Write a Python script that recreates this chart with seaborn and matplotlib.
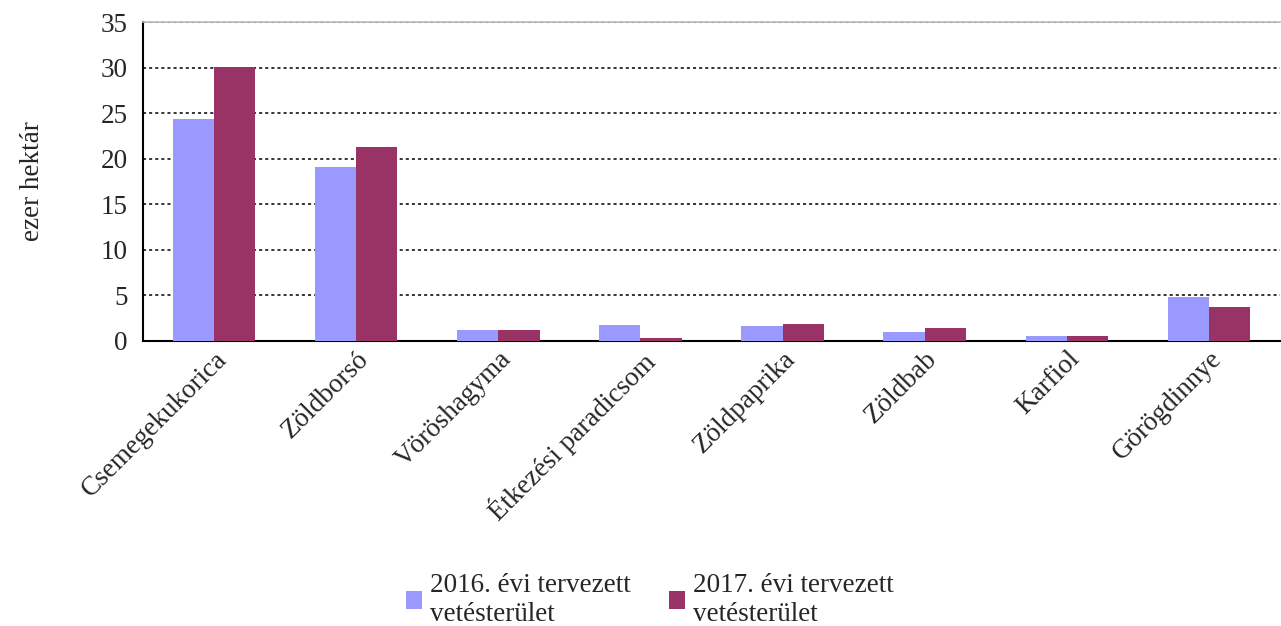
import pandas as pd
import matplotlib
matplotlib.use("Agg")
import matplotlib.pyplot as plt
import seaborn as sns

categories = ["Csemegekukorica", "Zöldborsó", "Vöröshagyma", "Étkezési paradicsom",
              "Zöldpaprika", "Zöldbab", "Karfiol", "Görögdinnye"]
area_2016 = [24.4, 19.1, 1.2, 1.8, 1.65, 1.0, 0.55, 4.8]
area_2017 = [30.1, 21.3, 1.2, 0.3, 1.85, 1.4, 0.55, 3.7]
series_labels = ["2016. évi tervezett\nvetésterület", "2017. évi tervezett\nvetésterület"]
colors = ["#9999FF", "#993366"]

df = pd.DataFrame({
    "cat": categories * 2,
    "value": area_2016 + area_2017,
    "series": [series_labels[0]] * len(categories) + [series_labels[1]] * len(categories),
})

sns.set_style("white")
plt.rcParams["font.family"] = ["Liberation Serif", "DejaVu Serif"]

fig = plt.figure(figsize=(12.81, 6.26), dpi=100)
ax = fig.add_axes([143 / 1281, 1 - 341 / 626, (1280 - 143) / 1281, (341 - 22) / 626])

sns.barplot(data=df, x="cat", y="value", hue="series", palette=colors,
            width=0.58, gap=0, saturation=1, linewidth=0, ax=ax, zorder=3)

ax.set_ylim(0, 35)
ax.set_yticks(range(0, 36, 5))
ax.yaxis.grid(True, linestyle=(0, (2, 2)), color="black", linewidth=1.1, zorder=0)
ax.set_axisbelow(True)
ax.set_xlim(-0.5, len(categories) - 0.5)

ax.tick_params(axis="y", labelsize=19.5, length=0, pad=11)
ax.tick_params(axis="x", labelsize=19.5, length=0, pad=4)
plt.setp(ax.get_xticklabels(), rotation=45, ha="right", rotation_mode="anchor")
ax.set_xlabel("")
ax.set_ylabel("ezer hektár", fontsize=19.5, labelpad=40)

for side in ["left", "bottom"]:
    ax.spines[side].set_color("black")
    ax.spines[side].set_linewidth(1.5)
ax.spines["right"].set_visible(False)
ax.spines["top"].set_color("#BBBBBB")
ax.spines["top"].set_linewidth(1.2)

handles, labels = ax.get_legend_handles_labels()
ax.legend_.remove()
leg = fig.legend(handles, labels, loc="center", bbox_to_anchor=(650 / 1281, 1 - 600 / 626),
                 ncol=2, frameon=False, fontsize=19.5, handlelength=0.6, handleheight=0.6,
                 handletextpad=0.3, columnspacing=1.4)
for t in leg.get_texts():
    t.set_linespacing(1.2)

fig.savefig("out.png", dpi=100)
